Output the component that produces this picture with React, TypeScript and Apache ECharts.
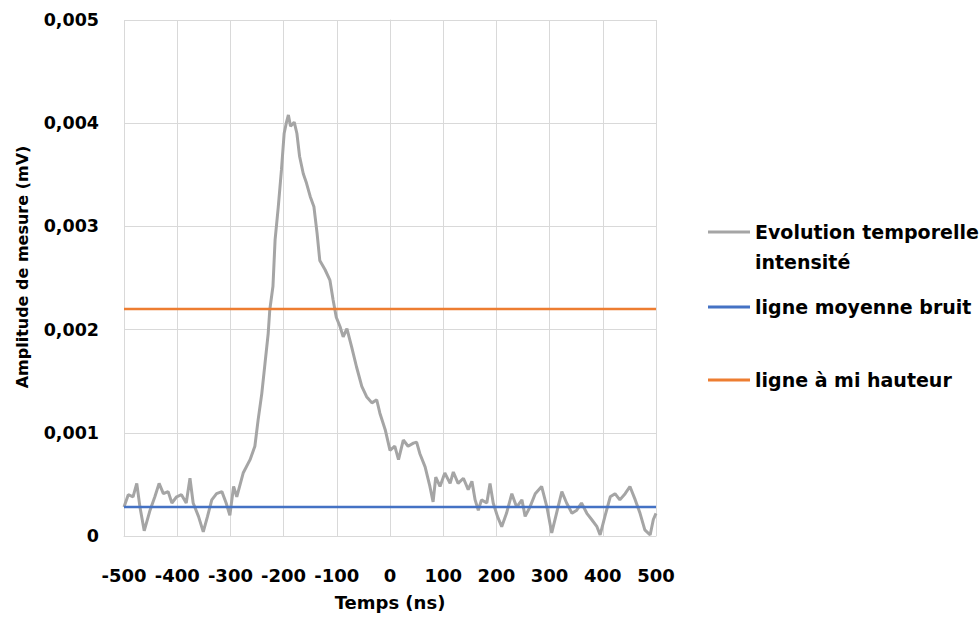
import React, { useEffect, useRef } from "react";
import * as echarts from "echarts";

const timeNs = [
  -500, -492, -483, -476, -470, -462, -451, -442, -434, -426,
  -417, -410, -401, -392, -383, -376, -370, -360, -351, -343,
  -335, -326, -316, -308, -301, -294, -288, -276, -263, -254,
  -248, -241, -235, -229, -226, -220, -216, -210, -204, -199,
  -195, -191, -187, -180, -175, -170, -163, -157, -150, -143,
  -137, -132, -122, -113, -107, -101, -94, -88, -81, -72,
  -63, -53, -44, -34, -25, -19, -9, 0, 9, 16,
  25, 34, 44, 50, 56, 66, 75, 81, 86, 94,
  103, 113, 119, 128, 138, 147, 154, 160, 166, 172,
  182, 188, 194, 202, 210, 219, 229, 238, 248, 254,
  263, 273, 285, 295, 304, 313, 323, 332, 342, 351,
  360, 370, 379, 389, 395, 404, 414, 423, 432, 442,
  451, 461, 470, 479, 489, 495, 500,
];

const amplitudeMv = [
  0.00028, 0.0004, 0.00038, 0.00051, 0.00028, 0.00005, 0.00025, 0.00038, 0.00051, 0.00041,
  0.00043, 0.00032, 0.00038, 0.0004, 0.00032, 0.00056, 0.00032, 0.00019, 0.00004, 0.00019,
  0.00035, 0.00041, 0.00043, 0.00032, 0.0002, 0.00048, 0.00038, 0.00061, 0.00074, 0.00087,
  0.00112, 0.00138, 0.00167, 0.00196, 0.00219, 0.00242, 0.00287, 0.00319, 0.00355, 0.0039,
  0.004, 0.00408, 0.00397, 0.00401, 0.0039, 0.00368, 0.00351, 0.00342, 0.00329, 0.00319,
  0.00293, 0.00267, 0.00258, 0.00248, 0.00229, 0.00212, 0.00203, 0.00193, 0.00201, 0.00183,
  0.00164, 0.00145, 0.00135, 0.00129, 0.00132, 0.00119, 0.00103, 0.00083, 0.00087, 0.00074,
  0.00093, 0.00087, 0.0009, 0.00091, 0.0008, 0.00067, 0.00048, 0.00033, 0.00057, 0.00048,
  0.00061, 0.00051, 0.00062, 0.00051, 0.00056, 0.00045, 0.00053, 0.00035, 0.00025, 0.00035,
  0.00032, 0.00051, 0.00032, 0.00019, 0.00009, 0.00022, 0.00041, 0.00028, 0.00035, 0.00019,
  0.00028, 0.00041, 0.00048, 0.00028, 0.00003, 0.00022, 0.00043, 0.00032, 0.00022, 0.00025,
  0.00032, 0.00022, 0.00016, 0.00009, 0.00001, 0.00019, 0.00038, 0.00041, 0.00035, 0.00041,
  0.00048, 0.00035, 0.00022, 0.00006, 0.00001, 0.00016, 0.00022,
];

const noiseMeanMv = 0.00028;
const halfHeightMv = 0.0022;
const xRange = [-500, 500];

const seriesNames = [
  "Evolution temporelle intensité",
  "ligne moyenne bruit",
  "ligne à mi hauteur",
];
const legendLabels = [
  " \nEvolution temporelle\nintensité",
  "ligne moyenne bruit",
  "ligne à mi hauteur",
];

const FONT = "DejaVu Sans";
const GRID_COLOR = "#d9d9d9";

export default function App() {
  const ref = useRef<HTMLDivElement>(null);

  useEffect(() => {
    if (!ref.current) return;
    const chart = echarts.init(ref.current, undefined, { renderer: "svg" });

    const legendBase = {
      orient: "vertical" as const,
      left: 708,
      padding: 0,
      icon: "rect",
      itemWidth: 42,
      itemHeight: 3,
      selectedMode: false,
    };
    const legendText = {
      fontFamily: FONT,
      fontWeight: "bold" as const,
      fontSize: 19,
      color: "#000",
      lineHeight: 30,
    };

    chart.setOption({
      animation: false,
      backgroundColor: "#fff",
      grid: { left: 124, right: 323, top: 20, bottom: 84, containLabel: false },
      legend: [
        {
          ...legendBase,
          top: 187,
          data: [seriesNames[0]],
          formatter: () => legendLabels[0],
          textStyle: legendText,
        },
        {
          ...legendBase,
          top: 292,
          data: [seriesNames[1]],
          formatter: () => legendLabels[1],
          textStyle: legendText,
        },
        {
          ...legendBase,
          top: 365,
          data: [seriesNames[2]],
          formatter: () => legendLabels[2],
          textStyle: legendText,
        },
      ],
      xAxis: {
        type: "value",
        min: -500,
        max: 500,
        interval: 100,
        name: "Temps (ns)",
        nameLocation: "middle",
        nameGap: 57,
        nameTextStyle: { fontFamily: FONT, fontWeight: "bold", fontSize: 18, color: "#000" },
        axisLine: { show: true, lineStyle: { color: GRID_COLOR, width: 1 } },
        axisTick: { show: false },
        axisLabel: {
          fontFamily: FONT,
          fontWeight: "bold",
          fontSize: 18,
          color: "#000",
          margin: 30,
        },
        splitLine: { show: true, lineStyle: { color: GRID_COLOR, width: 1 } },
      },
      yAxis: {
        type: "value",
        min: 0,
        max: 0.005,
        interval: 0.001,
        name: "Amplitude de mesure (mV)",
        nameLocation: "middle",
        nameGap: 94,
        nameTextStyle: {
          fontFamily: FONT,
          fontWeight: "bold",
          fontSize: 16,
          color: "#000",
          padding: [0, 0, 0, 22],
        },
        axisLine: { show: true, lineStyle: { color: GRID_COLOR, width: 1 } },
        axisTick: { show: false },
        axisLabel: {
          fontFamily: FONT,
          fontWeight: "bold",
          fontSize: 17.5,
          color: "#000",
          margin: 25,
          formatter: (v: number) => (v === 0 ? "0" : v.toFixed(3).replace(".", ",")),
        },
        splitLine: { show: true, lineStyle: { color: GRID_COLOR, width: 1 } },
      },
      series: [
        {
          name: seriesNames[0],
          type: "line",
          showSymbol: false,
          symbol: "none",
          data: timeNs.map((t, i) => [t, amplitudeMv[i]]),
          lineStyle: { color: "#a5a5a5", width: 3 },
          itemStyle: { color: "#a5a5a5" },
        },
        {
          name: seriesNames[1],
          type: "line",
          showSymbol: false,
          symbol: "none",
          data: xRange.map((t) => [t, noiseMeanMv]),
          lineStyle: { color: "#4472c4", width: 2.5 },
          itemStyle: { color: "#4472c4" },
        },
        {
          name: seriesNames[2],
          type: "line",
          showSymbol: false,
          symbol: "none",
          data: xRange.map((t) => [t, halfHeightMv]),
          lineStyle: { color: "#ed7d31", width: 2.5 },
          itemStyle: { color: "#ed7d31" },
        },
      ],
    });

    return () => chart.dispose();
  }, []);

  return (
    <div
      ref={ref}
      style={{ position: "fixed", left: 0, top: 0, width: 979, height: 620, background: "#fff" }}
    />
  );
}
